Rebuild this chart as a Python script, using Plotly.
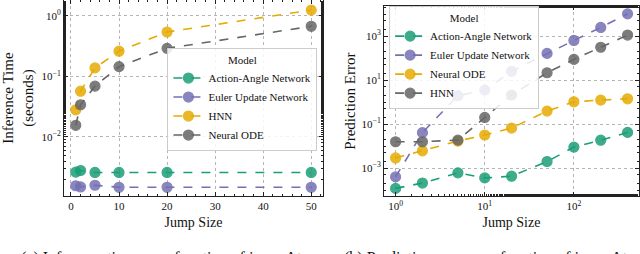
import plotly.graph_objects as go

# ---- data: left panel (inference time) ----
jump_a = [1, 2, 5, 10, 20, 50]
aan_time = [0.00263, 0.0028, 0.0026, 0.0026, 0.0026, 0.0026]
euler_time = [0.00157, 0.0015, 0.0016, 0.00148, 0.00148, 0.00148]
hnn_time = [0.028, 0.057, 0.138, 0.26, 0.54, 1.24]
node_time = [0.0156, 0.034, 0.069, 0.145, 0.29, 0.67]

# ---- data: right panel (prediction error) ----
jump_b = [1, 2, 5, 10, 20, 50, 100, 200, 400]
aan_err = [1.2e-4, 2.1e-4, 6.1e-4, 3.6e-4, 4.3e-4, 2.0e-3, 9.0e-3, 0.0186, 0.042]
euler_err = [4.0e-4, 0.041, 1.95, 3.5, 25, 163, 630, 2450, 10200]
node_err = [2.9e-3, 6.1e-3, 0.017, 0.032, 0.066, 0.39, 1.03, 1.23, 1.41]
hnn_err = [0.0158, 0.0158, 0.0187, 0.2, 2.1, 21.5, 87, 310, 1110]

ytick_a = [0.01, 0.1, 1]
ytick_a_text = ["10<sup>−2</sup>", "10<sup>−1</sup>", "10<sup>0</sup>"]
ytick_b = [1e-3, 1e-1, 1e1, 1e3]
ytick_b_text = ["10<sup>−3</sup>", "10<sup>−1</sup>", "10<sup>1</sup>", "10<sup>3</sup>"]
xtick_b = [1, 10, 100]
xtick_b_text = ["10<sup>0</sup>", "10<sup>1</sup>", "10<sup>2</sup>"]

GREEN, PURPLE, ORANGE, GRAY = "#1b9e77", "#7570b3", "#e6ab02", "#666666"
FONT = "Liberation Serif"

fig = go.Figure()

def add(x, y, name, color, xa, ya, legend):
    fig.add_trace(go.Scatter(
        x=x, y=y, name=name, mode="lines+markers",
        xaxis=xa, yaxis=ya, legend=legend,
        line=dict(color=color, width=1.6, dash="dash"),
        marker=dict(size=10, color=color, opacity=0.85,
                    line=dict(color=color, width=1.2)),
    ))

add(jump_a, aan_time, "Action-Angle Network", GREEN, "x", "y", "legend")
add(jump_a, euler_time, "Euler Update Network", PURPLE, "x", "y", "legend")
add(jump_a, hnn_time, "HNN", ORANGE, "x", "y", "legend")
add(jump_a, node_time, "Neural ODE", GRAY, "x", "y", "legend")

add(jump_b, aan_err, "Action-Angle Network", GREEN, "x2", "y2", "legend2")
add(jump_b, euler_err, "Euler Update Network", PURPLE, "x2", "y2", "legend2")
add(jump_b, node_err, "Neural ODE", ORANGE, "x2", "y2", "legend2")
add(jump_b, hnn_err, "HNN", GRAY, "x2", "y2", "legend2")

axis_common = dict(
    showline=True, linecolor="#222", linewidth=1, mirror="allticks",
    ticks="inside", ticklen=4, tickcolor="#222",
    showgrid=True, gridcolor="#b5b5b5", griddash="dot", gridwidth=1,
    zeroline=False, tickfont=dict(family=FONT, size=11, color="#111"),
)

fig.update_layout(
    width=640, height=254, margin=dict(l=0, r=0, t=0, b=0),
    paper_bgcolor="white", plot_bgcolor="white",
    font=dict(family=FONT, color="#111"),
    xaxis=dict(domain=[0.1, 0.5047], range=[-1.45, 52.45], anchor="y",
               tickvals=[0, 10, 20, 30, 40, 50],
               minor=dict(ticks="inside", ticklen=2, dtick=2, tick0=0, showgrid=False),
               title=dict(text="Jump Size", font=dict(family=FONT, size=14), standoff=5),
               **axis_common),
    yaxis=dict(domain=[0.228, 1.0], type="log", range=[-2.975, 0.26], anchor="x",
               tickvals=ytick_a, ticktext=ytick_a_text,
               minor=dict(ticks="inside", ticklen=2, showgrid=False),
               title=dict(text="Inference Time<br>(seconds)", font=dict(family=FONT, size=15), standoff=4),
               **axis_common),
    xaxis2=dict(domain=[0.6, 0.9984], type="log", range=[-0.13, 2.73], anchor="y2",
                tickvals=xtick_b, ticktext=xtick_b_text,
                minor=dict(ticks="inside", ticklen=2, showgrid=False),
                title=dict(text="Jump Size", font=dict(family=FONT, size=14), standoff=5),
                **axis_common),
    yaxis2=dict(domain=[0.228, 0.976], type="log", range=[-4.27, 4.36], anchor="x2",
                tickvals=ytick_b, ticktext=ytick_b_text,
                minor=dict(ticks="inside", ticklen=2, showgrid=False),
                title=dict(text="Prediction Error", font=dict(family=FONT, size=15), standoff=2),
                **axis_common),
    legend=dict(x=0.496, y=0.81, xanchor="right", yanchor="top",
                bgcolor="rgba(255,255,255,0.85)", bordercolor="#cccccc", borderwidth=1,
                font=dict(family=FONT, size=11), tracegroupgap=0,
                title=dict(text="Model", side="top center", font=dict(family=FONT, size=11))),
    legend2=dict(x=0.608, y=0.975, xanchor="left", yanchor="top",
                 bgcolor="rgba(255,255,255,0.85)", bordercolor="#cccccc", borderwidth=1,
                 font=dict(family=FONT, size=11), tracegroupgap=0,
                 title=dict(text="Model", side="top center", font=dict(family=FONT, size=11))),
    annotations=[
        dict(text="(a) Inference times as a function of jump Δ<i>t</i>", x=0.252, y=1 - 247 / 254,
             xref="paper", yref="paper", xanchor="center", yanchor="top", showarrow=False,
             font=dict(family=FONT, size=16)),
        dict(text="(b) Prediction error as a function of jump Δ<i>t</i>", x=0.758, y=1 - 247 / 254,
             xref="paper", yref="paper", xanchor="center", yanchor="top", showarrow=False,
             font=dict(family=FONT, size=16)),
    ],
)

fig.write_html("out.html", config={"displayModeBar": False},
               post_script="document.body.style.margin='0';document.body.style.overflow='hidden';")
